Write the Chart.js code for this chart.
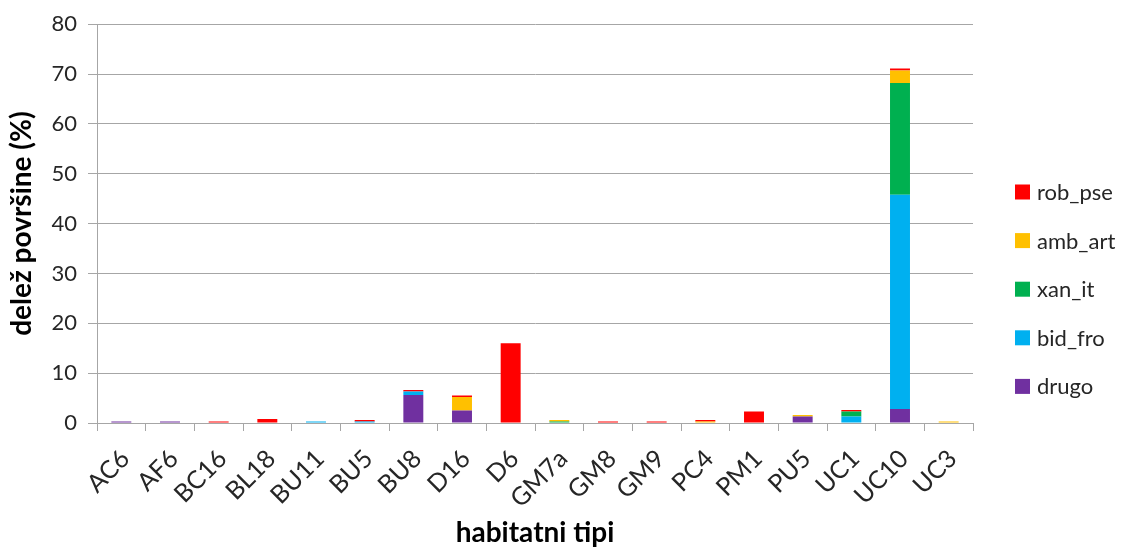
<!DOCTYPE html>
<html>
<head>
<meta charset="utf-8">
<script src="https://cdn.jsdelivr.net/npm/chart.js@4.4.1/dist/chart.umd.min.js"></script>
<style>
  html, body { margin: 0; padding: 0; background: #ffffff; }
  #wrap { width: 1129px; height: 547px; }
</style>
</head>
<body>
<div id="wrap"><canvas id="c" width="1129" height="547"></canvas></div>
<script>
// Habitat types on the category axis
const categories = ['AC6','AF6','BC16','BL18','BU11','BU5','BU8','D16','D6','GM7a','GM8','GM9','PC4','PM1','PU5','UC1','UC10','UC3'];

// Share of area (%) per species group, stacked bottom to top
const drugo   = [0.3, 0.3, 0,   0,   0,   0,   5.6, 2.5, 0,    0,   0,   0,   0,   0,   1.3, 0,   2.8,  0];
const bid_fro = [0,   0,   0,   0,   0.3, 0.3, 0.7, 0,   0,    0,   0,   0,   0,   0,   0,   1.3, 43.0, 0];
const xan_it  = [0,   0,   0,   0,   0,   0,   0,   0,   0,    0.3, 0,   0,   0,   0,   0,   1.0, 22.4, 0];
const amb_art = [0,   0,   0,   0,   0,   0,   0,   2.7, 0,    0.3, 0,   0,   0.3, 0,   0.3, 0,   2.5,  0.3];
const rob_pse = [0,   0,   0.3, 0.8, 0,   0.3, 0.3, 0.3, 16.0, 0,   0.3, 0.3, 0.3, 2.3, 0,   0.3, 0.4,  0];

const yTicks = [0, 10, 20, 30, 40, 50, 60, 70, 80];

const FONT = 'Lato, "Liberation Sans", sans-serif';
const GRID = '#a6a6a6';
const TEXT = '#262626';

function series(label, data, color) {
  return {
    label, data,
    backgroundColor: color,
    borderWidth: 0,
    barPercentage: 0.41,
    categoryPercentage: 1.0
  };
}

// Legend drawn as a column to the right of the plot, top entry = top of stack
const sideLegend = {
  id: 'sideLegend',
  afterDraw(chart) {
    const ctx = chart.ctx;
    const ds = chart.data.datasets.slice().reverse();
    const x0 = 1015, y0 = 192, step = 48.6, box = 15;
    ctx.save();
    ctx.font = '22px ' + FONT;
    ctx.textBaseline = 'middle';
    ctx.textAlign = 'left';
    ds.forEach((d, i) => {
      const y = y0 + i * step;
      ctx.fillStyle = d.backgroundColor;
      ctx.fillRect(x0, y - box / 2, box, box);
      ctx.fillStyle = TEXT;
      ctx.fillText(d.label, x0 + 22, y + 1);
    });
    ctx.restore();
  }
};

new Chart(document.getElementById('c'), {
  type: 'bar',
  data: {
    labels: categories,
    datasets: [
      series('drugo', drugo, '#7030A0'),
      series('bid_fro', bid_fro, '#00B0F0'),
      series('xan_it', xan_it, '#00B050'),
      series('amb_art', amb_art, '#FFC000'),
      series('rob_pse', rob_pse, '#FF0000')
    ]
  },
  options: {
    responsive: false,
    animation: false,
    layout: { padding: { left: 8, right: 156, top: 23, bottom: 0 } },
    plugins: {
      legend: { display: false },
      tooltip: { enabled: false }
    },
    scales: {
      x: {
        stacked: true,
        afterFit(s) { s.height = 124; },
        grid: { display: true, drawOnChartArea: false, drawTicks: true, tickLength: 8, color: GRID, lineWidth: 1, offset: true },
        border: { display: true, color: GRID, width: 1 },
        ticks: { color: TEXT, font: { family: FONT, size: 25 }, minRotation: 45, maxRotation: 45, autoSkip: false, padding: 13, labelOffset: 4 },
        title: { display: true, text: 'habitatni tipi', color: '#000', font: { family: FONT, size: 28, weight: 'bold', lineHeight: 1.0 }, padding: { top: 0, bottom: 0 } }
      },
      y: {
        stacked: true,
        min: 0, max: 80,
        afterFit(s) { s.width = 89; },
        afterBuildTicks(s) { s.ticks = yTicks.map(v => ({ value: v })); },
        grid: { color: GRID, lineWidth: 1, drawTicks: true, tickLength: 9 },
        border: { display: true, color: GRID, width: 1 },
        ticks: { color: TEXT, font: { family: FONT, size: 22 }, padding: 11 },
        title: { display: true, text: 'delež površine (%)', color: '#000', font: { family: FONT, size: 28, weight: 'bold', lineHeight: 1.0 }, padding: { top: 0, bottom: 0 } }
      }
    }
  },
  plugins: [sideLegend]
});
</script>
</body>
</html>
